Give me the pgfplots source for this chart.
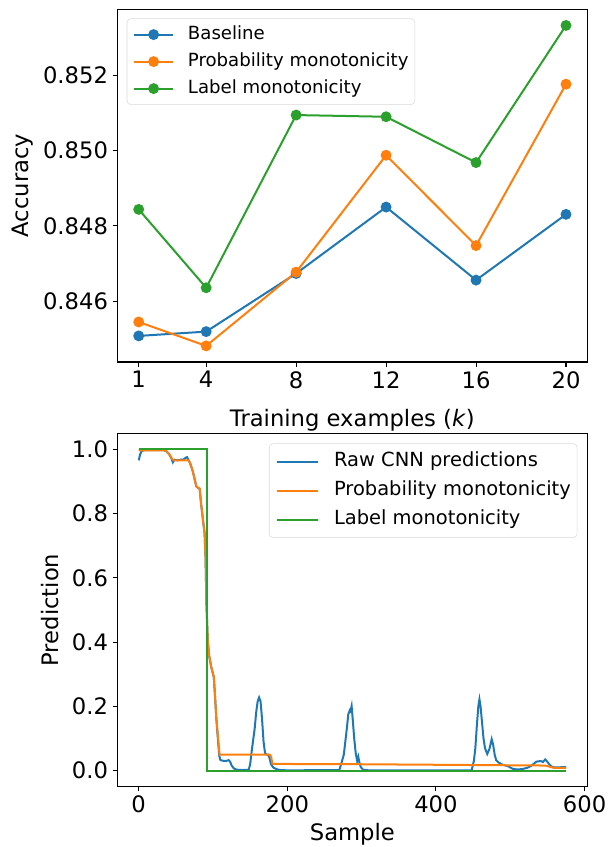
\documentclass[border=0pt]{standalone}
\usepackage{fontspec}
\setmainfont{DejaVu Sans}
\usepackage{pgfplots}
\pgfplotsset{compat=1.18}
\definecolor{tabblue}{HTML}{1F77B4}
\definecolor{taborange}{HTML}{FF7F0E}
\definecolor{tabgreen}{HTML}{2CA02C}
\pgfplotsset{
  myaxis/.style={
    scale only axis, width=352.5pt,
    axis line style={line width=0.8pt},
    tick align=outside, tick pos=left, major tick length=3.5pt,
    every tick/.style={black, line width=0.8pt},
    tick label style={font=\fontsize{17}{20}\selectfont},
    /pgf/number format/assume math mode=true,
    scaled ticks=false,
    legend cell align=left,
  }
}
\begin{document}
\begin{tikzpicture}
\begin{axis}[myaxis, height=264.5pt,
  at={(0pt,0pt)}, anchor=south west,
  xmin=0.05, xmax=20.95, ymin=0.84438, ymax=0.85375,
  xtick={1,4,8,12,16,20},
  ytick={0.846,0.848,0.850,0.852},
  yticklabel style={/pgf/number format/.cd, fixed, fixed zerofill, precision=3},
  xlabel={Training examples (\textit{k})},
  ylabel={Accuracy},
  every axis x label/.style={at={(axis description cs:0.5,-0.183)}, anchor=base, font=\fontsize{17}{20}\selectfont},
  every axis y label/.style={at={(axis description cs:-0.2006,0.5)}, rotate=90, anchor=center, font=\fontsize{17}{20}\selectfont},
  legend style={at={(0.02,0.9745)}, anchor=north west, draw=black!15, rounded corners=3pt,
    font=\fontsize{13.6}{16}\selectfont, inner xsep=4.7pt, inner ysep=5.5pt,
    row sep=7.25pt, column sep=10.5pt,
    nodes={inner sep=0pt, text height=10pt, text depth=3pt}},
  legend image code/.code={\draw[mark repeat=2,mark phase=2,#1] plot coordinates {(0pt,0pt) (14.5pt,0pt) (29pt,0pt)};},
]
\addplot[tabblue, line width=1.5pt, mark=*, mark size=3.3pt] coordinates {
(1,0.845074) (4,0.845188) (8,0.846732) (12,0.848497) (16,0.846556) (20,0.848303)};
\addlegendentry{Baseline}
\addplot[taborange, line width=1.5pt, mark=*, mark size=3.3pt] coordinates {
(1,0.845444) (4,0.844809) (8,0.846768) (12,0.849873) (16,0.847473) (20,0.851761)};
\addlegendentry{Probability monotonicity}
\addplot[tabgreen, line width=1.5pt, mark=*, mark size=3.3pt] coordinates {
(1,0.848435) (4,0.846353) (8,0.850941) (12,0.850896) (16,0.849679) (20,0.853322)};
\addlegendentry{Label monotonicity}
\end{axis}

\begin{axis}[myaxis, height=265pt,
  at={(0pt,-318.5pt)}, anchor=south west,
  xmin=-28.75, xmax=603.75, ymin=-0.05, ymax=1.05,
  xtick={0,200,400,600},
  ytick={0,0.2,0.4,0.6,0.8,1.0},
  yticklabel style={/pgf/number format/.cd, fixed, fixed zerofill, precision=1},
  xlabel={Sample},
  ylabel={Prediction},
  every axis x label/.style={at={(axis description cs:0.5,-0.151)}, anchor=base, font=\fontsize{17}{20}\selectfont},
  every axis y label/.style={at={(axis description cs:-0.1426,0.5)}, rotate=90, anchor=center, font=\fontsize{17}{20}\selectfont},
  legend style={at={(0.9787,0.9717)}, anchor=north east, draw=black!15, rounded corners=3pt,
    font=\fontsize{14.6}{17}\selectfont, inner xsep=4.7pt, inner ysep=6.5pt,
    row sep=7.75pt, column sep=11.2pt,
    nodes={inner sep=0pt, text height=10.7pt, text depth=3.3pt}},
  legend image code/.code={\draw[#1] (0pt,0pt) -- (31.2pt,0pt);},
]
\addplot[tabblue, line width=1.5pt] coordinates {
(0,0.966) (2,0.985) (4,0.995) (8,0.998) (20,0.998) (33,0.998) (37,0.995) (41,0.985) (44,0.972) (46,0.960)
(48,0.968) (52,0.966) (56,0.968) (60,0.968) (63,0.974) (65,0.976) (67,0.967) (69,0.958) (71,0.945) (73,0.930)
(75,0.910) (77.5,0.885) (80,0.880) (82,0.878) (84,0.830) (86.5,0.780) (88.7,0.738) (90,0.660) (91,0.530) (93,0.400)
(95,0.355) (97.6,0.323) (101,0.292) (102.5,0.240) (104.3,0.168) (106.5,0.100) (108.5,0.045) (110,0.033) (113,0.031) (116,0.030)
(119,0.031) (121,0.033) (123,0.028) (125,0.016) (128,0.007) (132,0.003) (140,0.002) (148,0.003) (150,0.020) (152,0.060)
(154,0.095) (156,0.130) (158,0.180) (160,0.215) (162,0.228) (164,0.215) (166,0.160) (168,0.090) (170,0.055) (172,0.050)
(174,0.050) (176,0.040) (178,0.020) (181,0.010) (185,0.005) (190,0.002) (200,0.001) (270,0.002) (273,0.025) (276,0.050)
(278,0.090) (280,0.130) (282,0.175) (284,0.188) (285,0.185) (286.5,0.201) (288,0.160) (290,0.100) (292,0.055) (294,0.030)
(295.5,0.043) (297,0.025) (299,0.010) (302,0.003) (310,0.001) (448,0.001) (451,0.030) (453,0.070) (455,0.140) (457,0.200)
(458.5,0.222) (460,0.200) (462,0.150) (464,0.100) (466,0.070) (469,0.052) (472,0.068) (475,0.098) (477,0.080) (479,0.050)
(481,0.033) (484,0.026) (488,0.020) (492,0.017) (497,0.014) (500,0.010) (503,0.006) (508,0.004) (512,0.004) (518,0.006)
(523,0.009) (528,0.015) (532,0.022) (535,0.028) (538,0.029) (541,0.030) (544,0.027) (547,0.035) (549,0.030) (552,0.021)
(556,0.012) (560,0.010) (565,0.010) (570,0.011) (575,0.011)};
\addlegendentry{Raw CNN predictions}
\addplot[taborange, line width=1.5pt] coordinates {
(0,0.997) (35,0.997) (38,0.993) (42,0.982) (45,0.970) (47,0.966) (67,0.966) (69,0.958) (71,0.945) (73,0.930)
(75,0.910) (77.5,0.885) (80,0.880) (82,0.878) (84,0.830) (86.5,0.780) (88.7,0.738) (90,0.660) (91,0.530) (93,0.400)
(95,0.355) (97.6,0.323) (101,0.292) (102.5,0.240) (104.3,0.168) (106.5,0.110) (108.8,0.050) (176,0.050) (178,0.045) (180,0.021)
(300,0.020) (547,0.016) (552,0.013) (558,0.009) (575,0.009)};
\addlegendentry{Probability monotonicity}
\addplot[tabgreen, line width=1.5pt] coordinates {
(0,1) (92,1) (92,0) (575,0)};
\addlegendentry{Label monotonicity}
\end{axis}
\pgfresetboundingbox
\path[use as bounding box] (-88pt,-363.7pt) rectangle (369.5pt,271.5pt);
\end{tikzpicture}
\end{document}
